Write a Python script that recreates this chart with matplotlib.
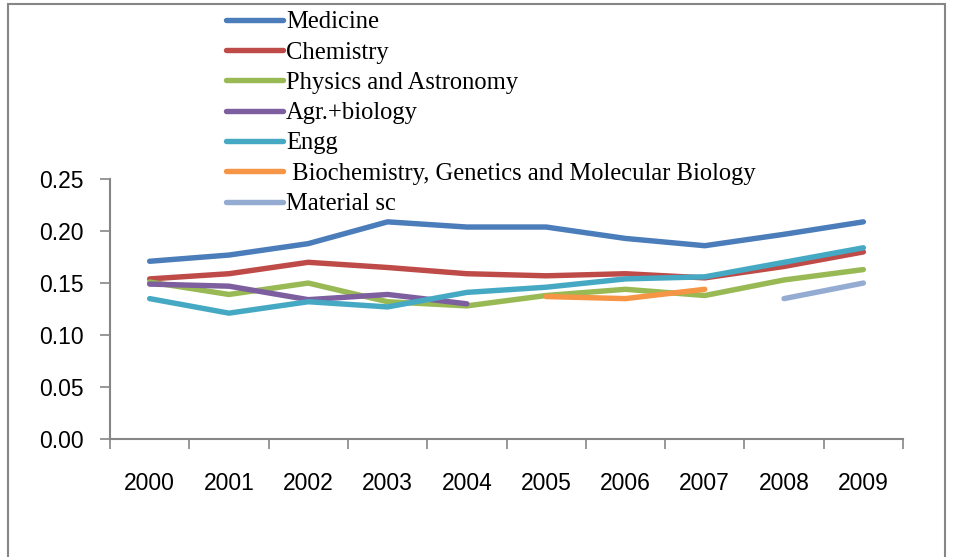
import matplotlib
matplotlib.use("Agg")
import matplotlib.pyplot as plt
import numpy as np
from matplotlib.patches import Rectangle

years = ["2000", "2001", "2002", "2003", "2004", "2005", "2006", "2007", "2008", "2009"]
nan = np.nan
medicine = [0.171, 0.177, 0.188, 0.209, 0.204, 0.204, 0.193, 0.186, 0.197, 0.209]
chemistry = [0.154, 0.159, 0.170, 0.165, 0.159, 0.157, 0.159, 0.155, 0.166, 0.180]
physics = [0.151, 0.139, 0.150, 0.132, 0.128, 0.138, 0.144, 0.138, 0.153, 0.163]
agri_bio = [0.149, 0.147, 0.134, 0.139, 0.130, nan, nan, nan, nan, nan]
engg = [0.135, 0.121, 0.132, 0.127, 0.141, 0.146, 0.154, 0.156, 0.170, 0.184]
biochem = [nan, nan, nan, nan, nan, 0.137, 0.135, 0.144, nan, nan]
material = [nan, nan, nan, nan, nan, nan, nan, nan, 0.135, 0.150]

series = [
    ("Medicine", medicine, "#4A7DBA"),
    ("Chemistry", chemistry, "#BE4B48"),
    ("Physics and Astronomy", physics, "#98B954"),
    ("Agr.+biology", agri_bio, "#7D5FA0"),
    ("Engg", engg, "#46A9C4"),
    (" Biochemistry, Genetics and Molecular Biology", biochem, "#F69545"),
    ("Material sc", material, "#94ABD2"),
]

W, H = 957, 557
fig = plt.figure(figsize=(W / 100, H / 100), dpi=100)
ax = fig.add_axes([110 / W, 1 - 438.7 / H, (903 - 110) / W, (438.7 - 179.3) / H])

x = np.arange(len(years))
for name, vals, col in series:
    ax.plot(x, vals, color=col, lw=3.9, label=name, solid_capstyle="round",
            solid_joinstyle="round")

grey = "#868686"
ax.set_xlim(-0.5, len(years) - 0.5)
ax.set_ylim(0, 0.25)
ax.set_yticks(np.arange(0, 0.26, 0.05))
ax.set_yticklabels(["%.2f" % v for v in np.arange(0, 0.26, 0.05)])
ax.set_xticks(x)
ax.set_xticklabels(years)
ax.set_xticks(np.arange(-0.5, len(years), 1.0), minor=True)
ax.tick_params(axis="x", which="major", length=0, pad=24, labelsize=16.5)
ax.tick_params(axis="x", which="minor", length=7, color=grey, width=1.2)
ax.tick_params(axis="y", length=7, color=grey, width=1.2, pad=12, labelsize=16.5)
for lab in ax.get_xticklabels() + ax.get_yticklabels():
    lab.set_family("Liberation Sans")
for s in ["top", "right"]:
    ax.spines[s].set_visible(False)
for s in ["left", "bottom"]:
    ax.spines[s].set_color(grey)
    ax.spines[s].set_linewidth(1.5)

leg = ax.legend(loc="upper left", bbox_to_anchor=(226 / W, 1 - 11 / H),
                bbox_transform=fig.transFigure, frameon=False,
                prop={"family": "Liberation Serif", "size": 17.7},
                handlelength=2.32, handletextpad=0.12, labelspacing=0.33,
                borderpad=0, borderaxespad=0)
for h in leg.get_lines():
    h.set_linewidth(3.9)

# outer chart frame
fig.patches.append(Rectangle((8 / W, -0.1), (945 - 8) / W, 1.1 - 4 / H,
                             transform=fig.transFigure, fill=False,
                             edgecolor=grey, lw=1.5))

fig.savefig("out.png", dpi=100)
